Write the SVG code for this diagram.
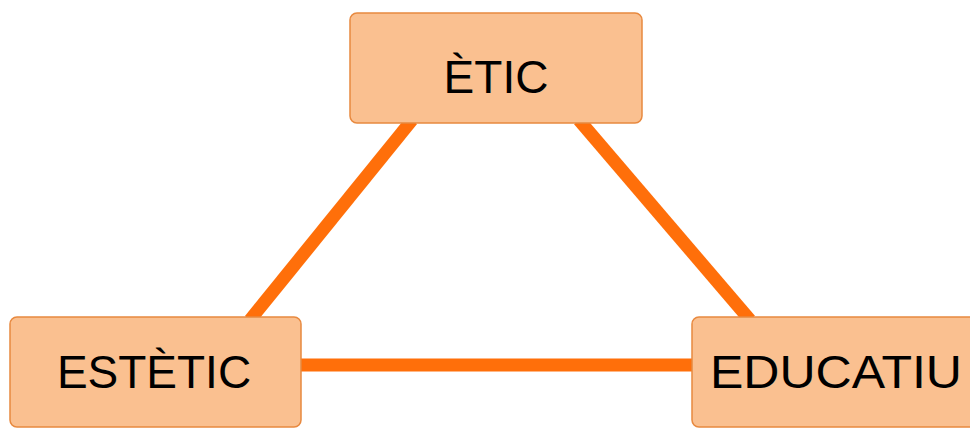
<svg xmlns="http://www.w3.org/2000/svg" width="970" height="428" viewBox="0 0 970 428">
<style>
.box{fill:#FAC090;stroke:#E8893F;stroke-width:1.5}
.lbl{font-family:"Liberation Sans",Arial,sans-serif;font-size:46px;fill:#000;text-anchor:middle}
.con{stroke:#FF6F0A;stroke-width:13;fill:none;stroke-linecap:butt}
</style>
<rect width="970" height="428" fill="#fff"/>
<g id="connectors">
<line class="con" x1="412" y1="120" x2="250" y2="320"/>
<line class="con" x1="579" y1="120" x2="750" y2="320"/>
<line class="con" x1="300" y1="365" x2="693" y2="365"/>
</g>
<g id="node-etic">
<rect class="box" x="350" y="13" width="292" height="110" rx="7"/>
<text class="lbl" x="496" y="93">ÈTIC</text>
</g>
<g id="node-estetic">
<rect class="box" x="10" y="317" width="291" height="110" rx="7"/>
<text class="lbl" x="154" y="388">ESTÈTIC</text>
</g>
<g id="node-educatiu">
<rect class="box" x="692" y="317" width="292" height="110" rx="7"/>
<text class="lbl" x="836" y="388" textLength="252" lengthAdjust="spacingAndGlyphs">EDUCATIU</text>
</g>
</svg>
